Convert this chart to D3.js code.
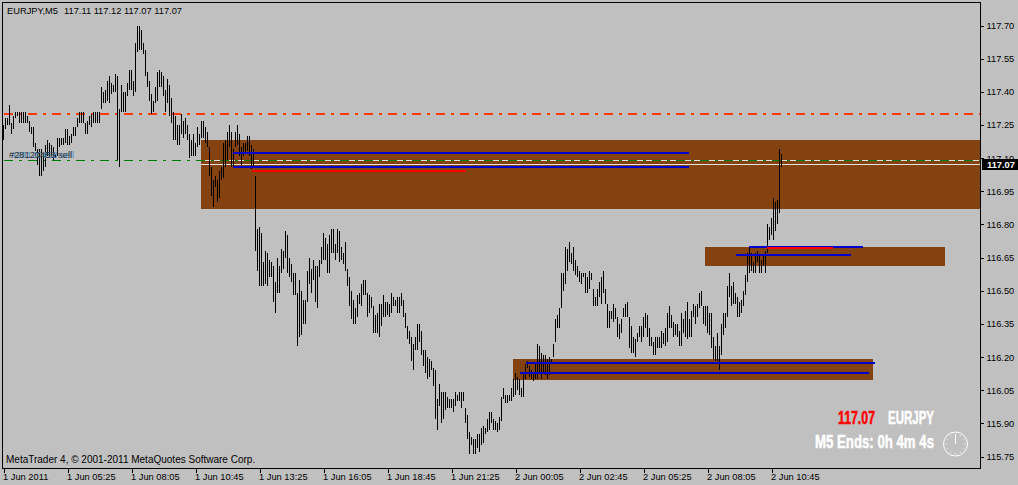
<!DOCTYPE html>
<html><head><meta charset="utf-8">
<script src="https://cdn.jsdelivr.net/npm/d3@7"></script>
<style>
html,body{margin:0;padding:0;background:#c0c0c0;overflow:hidden}
svg{display:block}
text{font-family:"Liberation Sans",Arial,sans-serif;font-size:9.3px;fill:#000}
.imp{font-weight:700;font-size:18px;stroke-width:0.5px}
</style></head><body>
<svg id="c" width="1018" height="485"></svg>
<script>
const symbol="EURJPY",timeframe="M5";
const ohlc=[117.11,117.12,117.07,117.07];
const highs=[
117.25,117.28,117.28,117.34,117.26,117.29,117.31,117.31,117.31,117.31,
117.31,117.31,117.29,117.27,117.24,117.24,117.17,117.14,117.14,117.14,
117.12,117.16,117.18,117.17,117.16,117.15,117.12,117.19,117.19,117.19,
117.19,117.23,117.23,117.20,117.21,117.24,117.24,117.28,117.31,117.31,
117.31,117.26,117.27,117.29,117.30,117.31,117.31,117.31,117.31,117.42,
117.40,117.41,117.45,117.47,117.44,117.43,117.48,117.47,117.32,117.43,
117.40,117.40,117.44,117.50,117.50,117.45,117.62,117.70,117.70,117.68,
117.62,117.59,117.49,117.45,117.39,117.36,117.42,117.49,117.50,117.49,
117.47,117.41,117.46,117.43,117.37,117.31,117.29,117.25,117.25,117.30,
117.27,117.28,117.25,117.21,117.18,117.21,117.17,117.24,117.21,117.27,
117.27,117.24,117.22,117.15,117.06,117.00,117.02,117.00,117.04,117.06,
117.17,117.18,117.22,117.25,117.22,117.14,117.22,117.25,117.21,117.15,
117.17,117.17,117.20,117.20,117.16,117.14,117.02,116.78,116.79,116.76,
116.63,116.68,116.67,116.64,116.63,116.61,116.54,116.65,116.61,116.69,
116.68,116.77,116.75,116.65,116.62,116.58,116.58,116.49,116.55,116.50,
116.46,116.46,116.59,116.65,116.60,116.64,116.61,116.61,116.64,116.70,
116.76,116.74,116.71,116.75,116.78,116.78,116.71,116.78,116.77,116.70,
116.67,116.72,116.60,116.56,116.50,116.46,116.42,116.48,116.49,116.53,
116.55,116.55,116.49,116.48,116.47,116.43,116.39,116.40,116.44,116.44,
116.48,116.45,116.45,116.44,116.49,116.47,116.46,116.47,116.47,116.49,
116.46,116.40,116.34,116.32,116.29,116.26,116.29,116.35,116.35,116.32,
116.23,116.23,116.20,116.19,116.18,116.15,116.14,116.01,116.08,116.04,
116.04,116.04,116.02,116.01,116.01,116.01,116.04,116.03,116.04,116.04,
116.04,115.97,115.94,115.86,115.84,115.83,115.83,115.85,115.85,115.88,
115.89,115.88,115.92,115.95,115.95,115.92,115.91,115.90,115.93,116.02,
116.06,116.03,116.03,116.03,116.06,116.10,116.13,116.11,116.10,116.06,
116.13,116.17,116.18,116.16,116.14,116.13,116.17,116.26,116.25,116.22,
116.21,116.21,116.19,116.20,116.19,116.26,116.37,116.39,116.42,116.58,
116.58,116.70,116.69,116.72,116.67,116.70,116.64,116.61,116.59,116.58,
116.58,116.58,116.56,116.59,116.58,116.51,116.47,116.51,116.54,116.56,
116.59,116.51,116.44,116.41,116.41,116.44,116.42,116.38,116.35,116.37,
116.42,116.44,116.45,116.38,116.34,116.29,116.28,116.31,116.34,116.34,
116.38,116.40,116.39,116.33,116.29,116.27,116.29,116.29,116.29,116.32,
116.31,116.33,116.40,116.43,116.39,116.36,116.35,116.35,116.32,116.40,
116.37,116.41,116.45,116.37,116.41,116.44,116.43,116.44,116.49,116.50,
116.43,116.43,116.43,116.40,116.40,116.29,116.25,116.31,116.25,116.35,
116.40,116.40,116.52,116.58,116.52,116.54,116.49,116.47,116.45,116.46,
116.50,116.57,116.67,116.70,116.67,116.63,116.67,116.68,116.66,116.64,
116.66,116.68,116.80,116.79,116.83,116.92,116.90,116.91,117.14,117.12];
const lows=[
117.18,117.23,117.25,117.25,117.21,117.23,117.28,117.29,117.26,117.26,
117.26,117.26,117.26,117.22,117.21,117.15,117.13,117.07,117.02,117.02,
117.04,117.06,117.11,117.11,117.11,117.09,117.10,117.11,117.15,117.16,
117.16,117.17,117.16,117.16,117.17,117.20,117.20,117.24,117.26,117.26,
117.26,117.21,117.21,117.25,117.24,117.26,117.26,117.26,117.26,117.32,
117.35,117.35,117.36,117.35,117.39,117.40,117.40,117.09,117.06,117.31,
117.31,117.31,117.38,117.41,117.41,117.38,117.40,117.58,117.59,117.59,
117.57,117.47,117.42,117.36,117.30,117.31,117.35,117.36,117.42,117.42,
117.38,117.31,117.35,117.29,117.26,117.18,117.18,117.16,117.16,117.21,
117.19,117.21,117.18,117.10,117.11,117.11,117.11,117.15,117.16,117.19,
117.19,117.17,117.15,117.02,116.93,116.88,116.97,116.90,116.92,117.00,
117.01,117.06,117.09,117.15,117.06,117.06,117.15,117.16,117.11,117.07,
117.11,117.12,117.13,117.11,117.05,117.06,116.68,116.59,116.52,116.52,
116.52,116.53,116.52,116.56,116.56,116.45,116.40,116.49,116.49,116.58,
116.60,116.65,116.58,116.56,116.54,116.48,116.48,116.25,116.29,116.30,
116.35,116.35,116.45,116.53,116.49,116.55,116.45,116.42,116.56,116.62,
116.64,116.64,116.58,116.58,116.67,116.67,116.64,116.67,116.63,116.64,
116.62,116.59,116.52,116.43,116.37,116.35,116.35,116.38,116.44,116.43,
116.48,116.48,116.38,116.40,116.42,116.31,116.31,116.31,116.29,116.34,
116.38,116.38,116.39,116.38,116.40,116.43,116.43,116.40,116.40,116.43,
116.38,116.33,116.28,116.26,116.18,116.14,116.23,116.23,116.27,116.21,
116.16,116.13,116.10,116.11,116.14,116.07,115.92,115.87,115.98,115.90,
115.92,115.96,115.97,115.97,115.97,115.95,115.98,116.00,116.00,115.97,
116.00,115.90,115.83,115.76,115.80,115.76,115.76,115.79,115.77,115.80,
115.81,115.85,115.86,115.87,115.90,115.87,115.87,115.86,115.87,115.91,
116.01,115.99,115.99,116.00,116.00,116.02,116.03,116.05,116.03,116.02,
116.02,116.10,116.15,116.11,116.10,116.09,116.10,116.10,116.13,116.10,
116.13,116.12,116.10,116.12,116.17,116.20,116.27,116.33,116.33,116.42,
116.50,116.53,116.59,116.63,116.62,116.59,116.57,116.56,116.54,116.53,
116.56,116.49,116.49,116.51,116.55,116.43,116.43,116.43,116.47,116.44,
116.49,116.44,116.33,116.33,116.37,116.36,116.37,116.29,116.28,116.31,
116.38,116.38,116.38,116.24,116.22,116.22,116.20,116.27,116.29,116.27,
116.29,116.33,116.29,116.25,116.25,116.21,116.21,116.24,116.24,116.24,
116.26,116.25,116.27,116.33,116.33,116.29,116.30,116.29,116.25,116.25,
116.31,116.29,116.28,116.29,116.29,116.38,116.35,116.38,116.42,116.43,
116.35,116.34,116.31,116.30,116.24,116.19,116.18,116.18,116.14,116.21,
116.30,116.33,116.38,116.47,116.43,116.44,116.44,116.38,116.38,116.40,
116.43,116.48,116.54,116.58,116.59,116.58,116.58,116.63,116.58,116.58,
116.61,116.58,116.67,116.73,116.75,116.73,116.77,116.80,116.85,117.06];
const timeTickBars=[0,32,64,96,128,160,192,224,256,288,320,352,384];
const timeTickLabels=["1 Jun 2011","1 Jun 05:25","1 Jun 08:05","1 Jun 10:45","1 Jun 13:25","1 Jun 16:05","1 Jun 18:45","1 Jun 21:25","2 Jun 00:05","2 Jun 02:45","2 Jun 05:25","2 Jun 08:05","2 Jun 10:45"];
const priceTicks=[115.75,115.90,116.05,116.20,116.35,116.50,116.65,116.80,116.95,117.10,117.25,117.40,117.55,117.70];
const lastPrice=117.07;
// zones: bar index start/end, price top/bottom
const zoneStart=[99,351,255], zoneEnd=[489,471,435], zoneTop=[117.18,116.70,116.19], zoneBottom=[116.87,116.61,116.095];
const blueStart=[114.5,114.5,372.5,366,261,258], blueEnd=[342.5,342.5,429.5,423.5,435.5,432.5], bluePrice=[117.125,117.06,116.70,116.66,116.175,116.13];
const redStart=[124,381.5], redEnd=[231,414.5], redPrice=[117.04,116.695];
const orderLevels=[117.30,117.09], orderColours=["#ff3c00","#008000"], orderWidths=[2,1];
const whiteLevels=[117.09,117.07];
const barX=d3.scaleLinear().domain([0,389]).range([3.5,781.5]);
const y=d3.scaleLinear().domain([115.75,117.70]).range([456.5,25.5]);
const svg=d3.select("#c");
function crisp(s){return s.attr("shape-rendering","crispEdges");}
// zones
crisp(svg.append("g").selectAll("rect").data(zoneStart).join("rect")
 .attr("x",(d,i)=>barX(d)-0.5).attr("width",(d,i)=>Math.min(barX(zoneEnd[i]),980)-barX(d))
 .attr("y",(d,i)=>y(zoneTop[i])).attr("height",(d,i)=>y(zoneBottom[i])-y(zoneTop[i])).attr("fill","#834210"));
// white lines
crisp(svg.append("g").selectAll("line").data(whiteLevels).join("line")
 .attr("x1",barX(99)-0.5).attr("x2",980).attr("y1",d=>y(d)).attr("y2",d=>y(d))
 .attr("stroke",(d,i)=>i?"#e4e0dc":"#e0e0e0"));
// order lines
crisp(svg.append("g").selectAll("line").data(orderLevels).join("line")
 .attr("x1",4).attr("x2",980).attr("y1",d=>y(d)).attr("y2",d=>y(d))
 .attr("stroke",(d,i)=>orderColours[i]).attr("stroke-width",(d,i)=>orderWidths[i]).attr("stroke-dasharray","9 6 3 6"));
// bars
crisp(svg.append("g").selectAll("line").data(highs).join("line")
 .attr("x1",(d,i)=>barX(i)).attr("x2",(d,i)=>barX(i))
 .attr("y1",d=>y(d)).attr("y2",(d,i)=>y(lows[i])).attr("stroke","#000"));
// blue, red lines
crisp(svg.append("g").selectAll("line").data(bluePrice).join("line")
 .attr("x1",(d,i)=>barX(blueStart[i])).attr("x2",(d,i)=>barX(blueEnd[i]))
 .attr("y1",d=>y(d)).attr("y2",d=>y(d)).attr("stroke","#0000cd").attr("stroke-width",2));
crisp(svg.append("g").selectAll("line").data(redPrice).join("line")
 .attr("x1",(d,i)=>barX(redStart[i])).attr("x2",(d,i)=>barX(redEnd[i]))
 .attr("y1",d=>y(d)).attr("y2",d=>y(d)).attr("stroke","#ff0000").attr("stroke-width",2));
// order label
svg.append("text").attr("x",11).attr("y",158).style("fill","#4a90c8").text("#28120458 sell");
svg.append("text").attr("x",9).attr("y",158).style("fill","#303030").text("#28120458 sell");
// frame
crisp(svg.append("rect").attr("x",2.5).attr("y",2.5).attr("width",978).attr("height",466).attr("fill","none").attr("stroke","#000"));
// axes
const xAx=svg.append("g").attr("transform","translate(0,468.5)")
 .call(d3.axisBottom(barX).tickValues(timeTickBars).tickSize(4).tickFormat((d,i)=>timeTickLabels[i]));
xAx.select(".domain").remove();
xAx.selectAll("line").attr("stroke","#000").attr("shape-rendering","crispEdges");
xAx.selectAll("text").attr("text-anchor","start").attr("x",-1).attr("y",5);
xAx.attr("font-size",null).attr("font-family",null);
const yAx=svg.append("g").attr("transform","translate(980.5,0)")
 .call(d3.axisRight(y).tickValues(priceTicks).tickSize(3).tickPadding(3).tickFormat(d3.format(".2f")));
yAx.select(".domain").remove();
yAx.selectAll("line").attr("stroke","#000").attr("shape-rendering","crispEdges");
yAx.attr("font-size",null).attr("font-family",null);
// current price box
crisp(svg.append("rect").attr("x",982).attr("y",y(lastPrice)-5.5).attr("width",36).attr("height",11).attr("fill","#000"));
svg.append("text").attr("x",987).attr("y",y(lastPrice)+3.5).style("fill","#fff").style("font-weight","700").text(d3.format(".2f")(lastPrice));
// header and footer
svg.append("text").attr("x",7).attr("y",13.5).text(symbol+","+timeframe);
svg.append("text").attr("x",64).attr("y",13.5).text(ohlc.map(d3.format(".2f")).join(" "));
svg.append("text").attr("x",6).attr("y",463).style("font-size","10px").text("MetaTrader 4, © 2001-2011 MetaQuotes Software Corp.");
// counter
function big(x,yy,w,col,str){
 svg.append("text").attr("class","imp").attr("x",x).attr("y",yy).attr("textLength",w).attr("lengthAdjust","spacingAndGlyphs")
  .style("fill",col).style("stroke",col).text(str);
}
big(838,424,37,"#ff0000",d3.format(".2f")(lastPrice));
big(888,424,46,"#ffffff",symbol);
big(815,448,119,"#ffffff",timeframe+" Ends: 0h 4m 4s");
// clock
const clock=svg.append("g").attr("transform","translate(955.5,444)");
clock.append("circle").attr("r",12).attr("fill","none").attr("stroke","#fff");
clock.selectAll("line.t").data(d3.range(12)).join("line").attr("class","t")
 .attr("x1",d=>9*Math.sin(d*Math.PI/6)).attr("y1",d=>-9*Math.cos(d*Math.PI/6))
 .attr("x2",d=>10*Math.sin(d*Math.PI/6)).attr("y2",d=>-10*Math.cos(d*Math.PI/6)).attr("stroke","#fff");
clock.append("line").attr("y1",0).attr("y2",-10).attr("stroke","#fff");
</script></body></html>
